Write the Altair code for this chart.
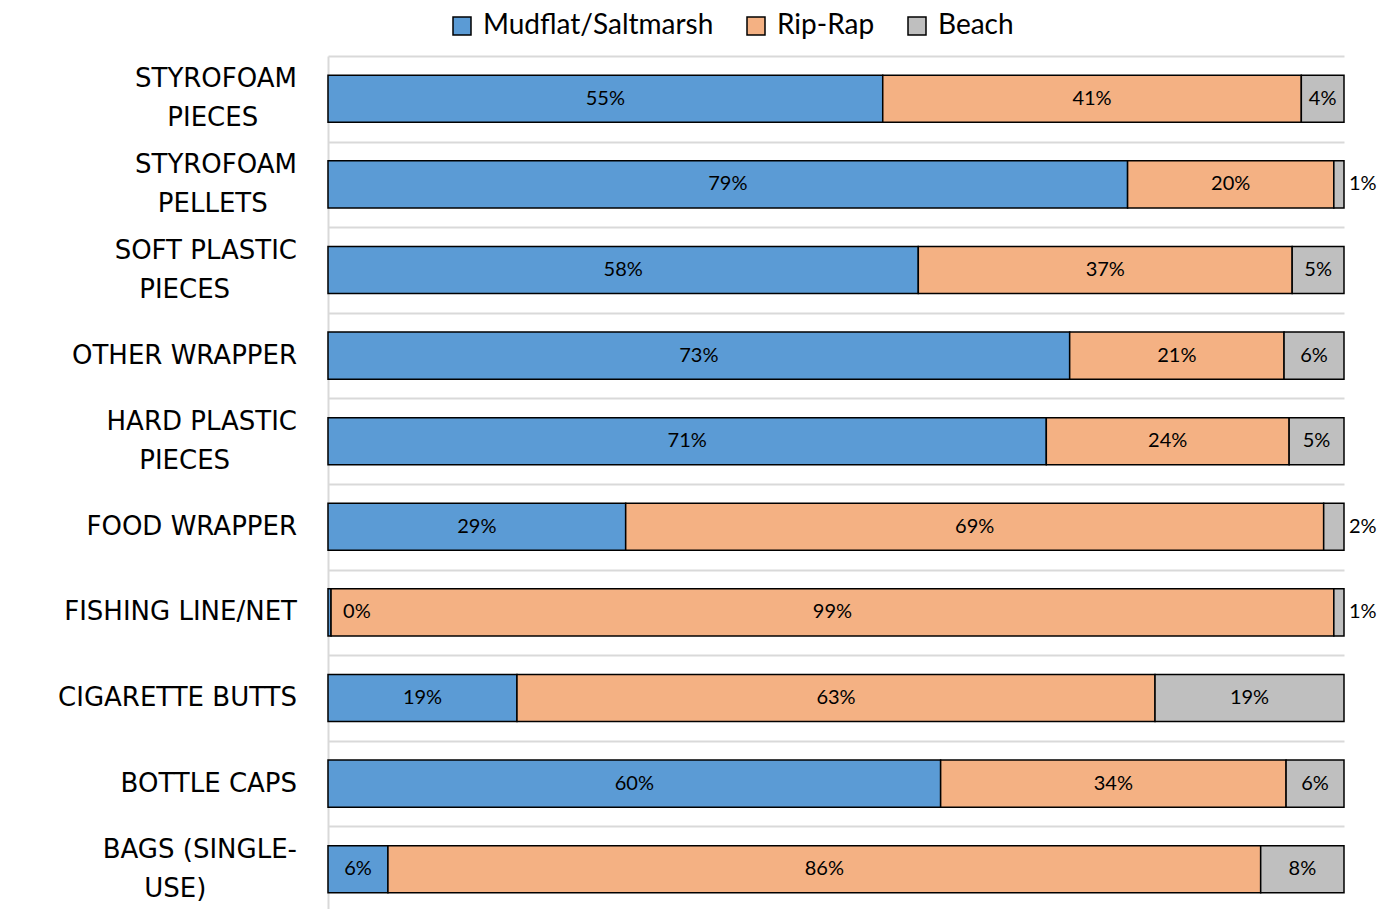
import altair as alt
import pandas as pd

categories = [
    "STYROFOAM\nPIECES",
    "STYROFOAM\nPELLETS",
    "SOFT PLASTIC\nPIECES",
    "OTHER WRAPPER",
    "HARD PLASTIC\nPIECES",
    "FOOD WRAPPER",
    "FISHING LINE/NET",
    "CIGARETTE BUTTS",
    "BOTTLE CAPS",
    "BAGS (SINGLE-\nUSE)",
]
series = ["Mudflat/Saltmarsh", "Rip-Rap", "Beach"]
colors = ["#5B9BD5", "#F4B183", "#BFBFBF"]

mudflat = [54.6, 78.7, 58.1, 73.0, 70.7, 29.3, 0.3, 18.6, 60.3, 5.9]
riprap = [41.2, 20.3, 36.8, 21.1, 23.9, 68.7, 98.7, 62.8, 34.0, 85.9]
beach = [4.2, 1.0, 5.1, 5.9, 5.4, 2.0, 1.0, 18.6, 5.7, 8.2]

rows = []
for i, c in enumerate(categories):
    for k, (s, vals) in enumerate(zip(series, [mudflat, riprap, beach])):
        rows.append({"cat": c, "series": s, "ord": k, "v": vals[i]})
df = pd.DataFrame(rows)

FONT = "Lato"
LABEL_FONT = "DejaVu Sans"
LABEL_SIZE = 26

yscale = alt.Scale(paddingInner=0, paddingOuter=0)

y_enc = alt.Y(
    "cat:N",
    sort=categories,
    title=None,
    scale=yscale,
    axis=alt.Axis(
        labels=False,
        ticks=False,
        grid=True,
        gridColor="#d9d9d9",
        gridWidth=2,
        tickBand="extent",
        domainColor="#d9d9d9",
        domainWidth=2,
        minExtent=315,
        maxExtent=315,
    ),
)

xscale = alt.Scale(domain=[0, 100], nice=False, zero=True)

base = (
    alt.Chart(df)
    .transform_stack(stack="v", groupby=["cat"], as_=["x0", "x1"], sort=[alt.SortField("ord", order="ascending")])
    .transform_calculate(mid="(datum.x0 + datum.x1) / 2", lab="format(datum.v, '.0f') + '%'")
)

bars = base.mark_bar(height={"band": 0.55}, stroke="black", strokeWidth=1.5).encode(
    y=y_enc,
    x=alt.X("x0:Q", scale=xscale, axis=None),
    x2="x1:Q",
    color=alt.Color(
        "series:N",
        scale=alt.Scale(domain=series, range=colors),
        legend=alt.Legend(
            title=None,
            orient="none",
            direction="horizontal",
            legendX=120,
            legendY=-44,
            padding=0,
            symbolType="square",
            symbolSize=324,
            symbolStrokeColor="black",
            symbolStrokeWidth=1.5,
            symbolOpacity=1,
            labelFont=FONT,
            labelFontSize=28,
            labelColor="black",
            labelOffset=7,
            columnPadding=28,
            labelLimit=400,
        ),
    ),
)

ycat = alt.Y("cat:N", sort=categories)

inside = base.transform_filter("datum.v >= 3").mark_text(font=FONT, fontSize=20, color="black").encode(
    y=ycat, x=alt.X("mid:Q", scale=xscale), text="lab:N"
)

outside_right = base.transform_filter("datum.v < 3 && datum.series == 'Beach'").mark_text(
    font=FONT, fontSize=20, color="black", align="left", dx=5
).encode(y=ycat, x=alt.X("x1:Q", scale=xscale), text="lab:N")

outside_zero = base.transform_filter("datum.v < 3 && datum.series == 'Mudflat/Saltmarsh'").mark_text(
    font=FONT, fontSize=20, color="black", align="left", dx=12
).encode(y=ycat, x=alt.X("x1:Q", scale=xscale), text="lab:N")

cat_base = (
    alt.Chart(df)
    .transform_filter("datum.ord == 0")
    .transform_calculate(
        line1="split(datum.cat, '\\n')[0]",
        line2="split(datum.cat, '\\n')[1]",
        cx=f"-31 - length(split(datum.cat, '\\n')[0]) * {0.72 * LABEL_SIZE / 2}",
    )
)

single_labels = cat_base.transform_filter("indexof(datum.cat, '\\n') < 0").mark_text(
    font=LABEL_FONT, fontSize=LABEL_SIZE, color="black", align="right", baseline="middle"
).encode(y=ycat, x=alt.value(-31), text="cat:N")

first_lines = cat_base.transform_filter("indexof(datum.cat, '\\n') >= 0").mark_text(
    font=LABEL_FONT, fontSize=LABEL_SIZE, color="black", align="right", baseline="middle", dy=-19.5
).encode(y=ycat, x=alt.value(-31), text="line1:N")

second_lines = cat_base.transform_filter("indexof(datum.cat, '\\n') >= 0").mark_text(
    font=LABEL_FONT, fontSize=LABEL_SIZE, color="black", align="center", baseline="middle", dy=19.5
).encode(y=ycat, x=alt.X("cx:Q", scale=None), text="line2:N")

chart = (
    alt.layer(bars, inside, outside_right, outside_zero, single_labels, first_lines, second_lines)
    .properties(width=1016, height=856, padding={"top": 4, "left": 5, "right": 5, "bottom": 5})
    .configure_view(stroke=None)
)

chart.save("out.html", embed_options={"renderer": "svg", "actions": False})
